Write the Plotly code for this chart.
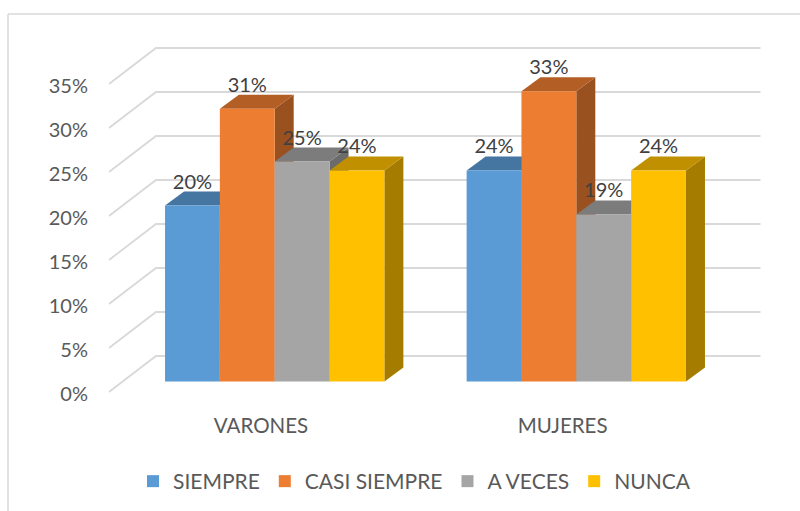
import plotly.graph_objects as go

categories = ["VARONES", "MUJERES"]
series_names = ["SIEMPRE", "CASI SIEMPRE", "A VECES", "NUNCA"]
siempre = [0.20, 0.24]
casi_siempre = [0.31, 0.33]
a_veces = [0.25, 0.19]
nunca = [0.24, 0.24]
y_ticks = [0, 0.05, 0.10, 0.15, 0.20, 0.25, 0.30, 0.35]

front_colors = ["#5B9BD5", "#ED7D31", "#A5A5A5", "#FFC000"]
top_colors = ["#4575A1", "#B35E25", "#7C7C7C", "#C09000"]
side_colors = ["#3B6589", "#9A5120", "#6B6B6B", "#A67C00"]
values = [siempre, casi_siempre, a_veces, nunca]

W, H = 800, 511
L, T, R, B = 109, 20, 800, 396      # plot box in px
UX = 301.6                          # px per category
UY = 880.0                          # px per 100 %
bar_w = 1 / 5.5
depth_x, depth_y = 19 / UX, 14 / UY
label_lift = 22 / UY
GRID = "#D9D9D9"
tick_zero_px = 393.5                # where the tick labels' 0 % sits
wall_zero_px = 392.0                # where the wall's front 0 % line starts
wall_shift = (tick_zero_px - wall_zero_px) / UY

fig = go.Figure()

# --- walls (base subplot: x = label axis, y = tick axis)
cx0 = 261.0
wall_left = (L - cx0) / UX
wall_back = (156 - cx0) / UX
wall_right = (760.5 - cx0) / UX
wall_rise = 36 / UY
for t in y_ticks:
    fig.add_trace(go.Scatter(x=[wall_left, wall_back, wall_right],
                             y=[t + wall_shift, t + wall_shift + wall_rise, t + wall_shift + wall_rise],
                             mode="lines", line=dict(color=GRID, width=1.8),
                             showlegend=False, hoverinfo="skip",
                             xaxis="x", yaxis="y"))

# --- side and top faces, left to right (x2 / y2)
idx = list(range(len(categories)))
for s, vals in enumerate(values):
    for i, v in zip(idx, vals):
        x1 = i + (s - 2) * bar_w
        x2 = x1 + bar_w
        fig.add_trace(go.Scatter(
            x=[x2, x2 + depth_x, x2 + depth_x, x2, x2],
            y=[0, depth_y, v + depth_y, v, 0],
            fill="toself", fillcolor=side_colors[s], mode="none",
            showlegend=False, hoverinfo="skip", xaxis="x2", yaxis="y2"))
        fig.add_trace(go.Scatter(
            x=[x1, x2, x2 + depth_x, x1 + depth_x, x1],
            y=[v, v, v + depth_y, v + depth_y, v],
            fill="toself", fillcolor=top_colors[s], mode="none",
            showlegend=False, hoverinfo="skip", xaxis="x2", yaxis="y2"))

# --- front faces (x2 / y3)
for s, vals in enumerate(values):
    fig.add_trace(go.Bar(x=idx, y=vals, name=series_names[s],
                         marker=dict(color=front_colors[s], line=dict(width=0)),
                         xaxis="x2", yaxis="y3"))

# --- data labels
for s, vals in enumerate(values):
    fig.add_trace(go.Scatter(
        x=[i + (s - 1.5) * bar_w for i in idx],
        y=[v + label_lift for v in vals],
        text=[f"{round(v * 100)}%" for v in vals],
        mode="text", textposition="middle center",
        textfont=dict(family="Lato", size=20, color="#404040"),
        showlegend=False, hoverinfo="skip", xaxis="x2", yaxis="y3"))

front_base_px = 381.6
y_range2 = [-(B - front_base_px) / UY, (front_base_px - T) / UY]
hidden = dict(visible=False, showgrid=False, zeroline=False)

fig.update_layout(
    width=W, height=H,
    margin=dict(l=L, r=W - R, t=T, b=H - B, pad=0),
    paper_bgcolor="white", plot_bgcolor="white",
    barmode="group", bargap=1.5 / 5.5, bargroupgap=0,
    font=dict(family="Lato", size=20, color="#595959"),
    xaxis=dict(range=[(L - cx0) / UX, (R - cx0) / UX],
               tickmode="array", tickvals=idx, ticktext=categories,
               showgrid=False, zeroline=False, showline=False, ticks="",
               ticklabelstandoff=15,
               tickfont=dict(family="Lato", size=20.5, color="#595959")),
    yaxis=dict(range=[-(B - tick_zero_px) / UY, (tick_zero_px - T) / UY],
               tickmode="array", tickvals=y_ticks, tickformat=".0%",
               showgrid=False, zeroline=False, showline=False, ticks="",
               ticklabelstandoff=20,
               tickfont=dict(family="Lato", size=20, color="#595959")),
    xaxis2=dict(range=[(L - 274.7) / UX, (R - 274.7) / UX],
                overlaying="x", anchor="y2", **hidden),
    yaxis2=dict(range=y_range2, overlaying="y", anchor="x2", **hidden),
    yaxis3=dict(range=y_range2, overlaying="y", anchor="x2", **hidden),
    legend=dict(orientation="h", x=(149 - 6 - 10 - L) / (R - L), xanchor="left",
                y=-(461 - B) / (B - T), yanchor="top",
                font=dict(family="Lato", size=21, color="#595959"),
                bgcolor="rgba(0,0,0,0)", traceorder="normal"),
    shapes=[dict(type="line", xref="paper", yref="paper",
                 x0=(8 - L) / (R - L), x1=1, y0=(B - 14) / (B - T), y1=(B - 14) / (B - T),
                 line=dict(color="#D9D9D9", width=1.5), layer="below"),
            dict(type="line", xref="paper", yref="paper",
                 x0=(8 - L) / (R - L), x1=(8 - L) / (R - L),
                 y0=(B - 14) / (B - T), y1=(B - 511) / (B - T),
                 line=dict(color="#D9D9D9", width=1.5), layer="below")],
)

fig.write_html("out.html", config=dict(displayModeBar=False),
               post_script="document.body.style.margin='0';")
